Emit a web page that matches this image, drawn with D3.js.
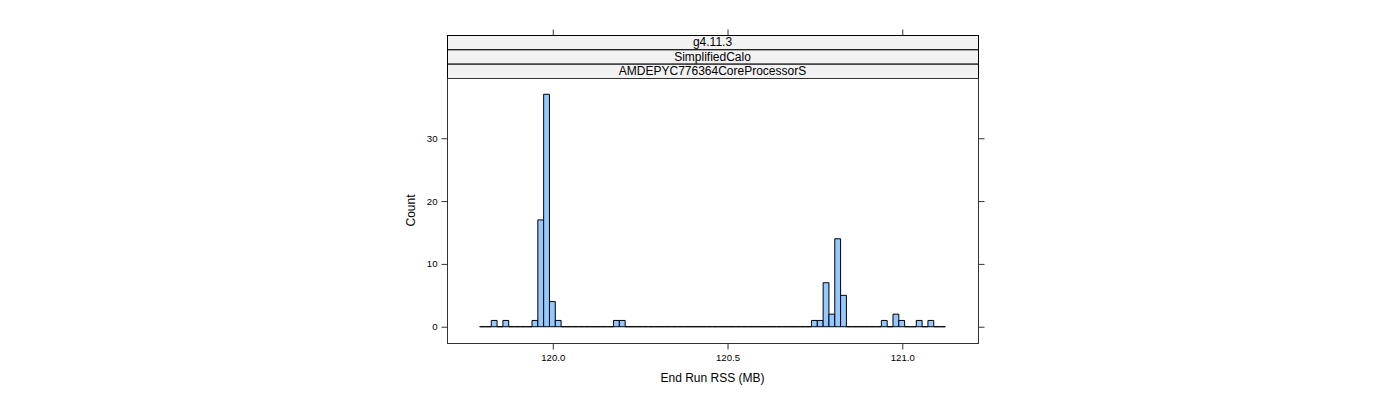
<!DOCTYPE html>
<html><head><meta charset="utf-8">
<script src="https://cdn.jsdelivr.net/npm/d3@7"></script>
<style>body{margin:0;background:#fff} text{font-family:"Liberation Sans",Arial,sans-serif;fill:#000}</style>
</head><body><svg id="c" width="1400" height="400"></svg>
<script>
// ---- data ----
const stripLabels = ["g4.11.3", "SimplifiedCalo", "AMDEPYC776364CoreProcessorS"];
const breakMin = 119.7906;
const breakMax = 121.1234;
const counts = [
  0, 0, 1, 0, 1, 0, 0, 0, 0, 1,
  17, 37, 4, 1, 0, 0, 0, 0, 0, 0,
  0, 0, 0, 1, 1, 0, 0, 0, 0, 0,
  0, 0, 0, 0, 0, 0, 0, 0, 0, 0,
  0, 0, 0, 0, 0, 0, 0, 0, 0, 0,
  0, 0, 0, 0, 0, 0, 0, 1, 1, 7,
  2, 14, 5, 0, 0, 0, 0, 0, 0, 1,
  0, 2, 1, 0, 0, 1, 0, 1, 0, 0
];
const xTicks = [120.0, 120.5, 121.0];
const xTickLabels = ["120.0", "120.5", "121.0"];
const yTicks = [0, 10, 20, 30];
const xLabel = "End Run RSS (MB)";
const yLabel = "Count";

// ---- layout ----
const svg = d3.select("#c");
const P = {l: 447, r: 978, t: 78, b: 343};
const stripTop = 35;
const nB = counts.length;
const bw = (breakMax - breakMin) / nB;
const bins = counts.map((c, i) => ({x0: breakMin + i * bw, x1: breakMin + (i + 1) * bw, c}));
const R = breakMax - breakMin;
const yMax = d3.max(counts);
const x = d3.scaleLinear().domain([breakMin - 0.07 * R, breakMax + 0.07 * R]).range([P.l, P.r]);
const y = d3.scaleLinear().domain([-0.07 * yMax, yMax * 1.07]).range([P.b, P.t]);

const font = `"Liberation Sans",Arial,sans-serif`;

// strips
const sh = (P.t - stripTop) / stripLabels.length;
stripLabels.forEach((s, i) => {
  const y0 = stripTop + i * sh;
  svg.append("rect").attr("x", P.l + 0.5).attr("y", y0 + 0.5).attr("width", P.r - P.l).attr("height", sh)
    .attr("fill", "#F2F2F2").attr("stroke", "#000").attr("stroke-width", 1);
  svg.append("text").attr("x", (P.l + P.r) / 2).attr("y", y0 + sh / 2 + 4.3)
    .attr("text-anchor", "middle").style("font-size", "12px").text(s);
});

// panel frame
svg.append("rect").attr("x", P.l + 0.5).attr("y", P.t + 0.5).attr("width", P.r - P.l).attr("height", P.b - P.t)
  .attr("fill", "none").attr("stroke", "#333").attr("stroke-width", 1);

// bars (closed outlines so empty bins still draw as a line at zero)
svg.append("g").selectAll("path").data(bins).join("path")
  .attr("d", d => {
    const a = x(d.x0), b = x(d.x1), t = y(d.c), z = y(0);
    return `M${a},${z}V${t}H${b}V${z}Z`;
  })
  .attr("fill", "#94C8FF").attr("stroke", "#000").attr("stroke-width", 1);

// axes: left (labels), bottom (labels), top & right ticks only
const gl = svg.append("g").attr("transform", `translate(${P.l + 0.5},0)`)
  .call(d3.axisLeft(y).tickValues(yTicks).tickSize(6).tickPadding(4).tickFormat(d3.format("d")));
const gr = svg.append("g").attr("transform", `translate(${P.r + 0.5},0)`)
  .call(d3.axisRight(y).tickValues(yTicks).tickSize(6).tickFormat(""));
const gb = svg.append("g").attr("transform", `translate(0,${P.b + 0.5})`)
  .call(d3.axisBottom(x).tickValues(xTicks).tickSize(6).tickPadding(5).tickFormat((d, i) => xTickLabels[i]));
const gt = svg.append("g").attr("transform", `translate(0,${stripTop + 0.5})`)
  .call(d3.axisTop(x).tickValues(xTicks).tickSize(6).tickFormat(""));
[gl, gr, gb, gt].forEach(g => {
  g.select(".domain").remove();
  g.selectAll(".tick line").attr("stroke", "#333");
  g.selectAll("text").style("font-size", "9.6px").style("font-family", font).attr("fill", "#000");
});

// axis titles
svg.append("text").attr("x", (P.l + P.r) / 2).attr("y", 382).attr("text-anchor", "middle")
  .style("font-size", "12px").text(xLabel);
svg.append("text").attr("transform", `translate(414.5,${(P.t + P.b) / 2}) rotate(-90)`)
  .attr("text-anchor", "middle").style("font-size", "12px").text(yLabel);
</script></body></html>
